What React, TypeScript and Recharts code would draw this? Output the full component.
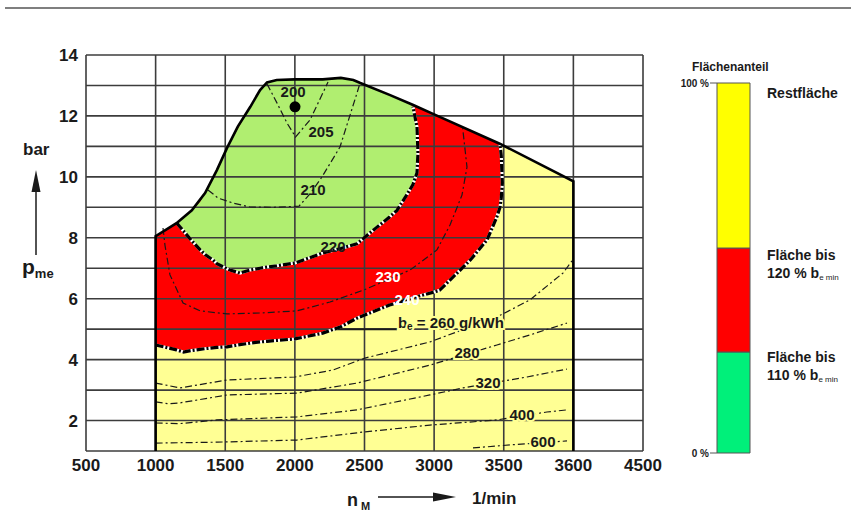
import React from "react";
import {
  Area,
  Bar,
  BarChart,
  CartesianGrid,
  ComposedChart,
  Line,
  Scatter,
  XAxis,
  YAxis,
} from "recharts";

const FONT = '"Liberation Sans", Arial, Helvetica, sans-serif';
const INK = "#1a1a1a";

// full-load curve, n in 1/min (axis position), p_me in bar
const mapFloor = 1;
const fullLoadN = [1000, 1150, 1260, 1355, 1440, 1513, 1590, 1680, 1750, 1800, 1870, 2000, 2200, 2330, 2420, 2470, 2680, 2850, 3000, 3475, 4000];
const fullLoadP = [8.05, 8.48, 8.9, 9.47, 10.22, 10.95, 11.65, 12.3, 12.85, 13.1, 13.18, 13.2, 13.2, 13.25, 13.18, 13.08, 12.69, 12.36, 12.05, 11.08, 9.85];

// area up to 120 % b_e min (red)
const redN = [1000, 1150, 1200, 1260, 1355, 1440, 1513, 1590, 1680, 1750, 1800, 1870, 2000, 2200, 2330, 2450, 2680, 2850, 2920, 3000, 3040, 3260, 3380, 3450, 3473, 3482, 3490];
const redLow = [4.48, 4.32, 4.25, 4.3, 4.36, 4.4, 4.42, 4.48, 4.54, 4.58, 4.6, 4.63, 4.68, 4.87, 5.08, 5.37, 5.79, 6.03, 6.12, 6.22, 6.28, 7.27, 7.93, 8.68, 9.0, 9.3, 9.8];
const redHigh = [8.05, 8.48, 8.67, 8.9, 9.47, 10.22, 10.95, 11.65, 12.3, 12.85, 13.1, 13.18, 13.2, 13.2, 13.25, 13.12, 12.69, 12.36, 12.22, 12.05, 11.97, 11.52, 11.27, 11.13, 11.08, 10.7, 9.8];

// area up to 110 % b_e min (green)
const greenN = [1153, 1200, 1260, 1320, 1355, 1412, 1440, 1513, 1534, 1606, 1678, 1750, 1800, 1870, 2000, 2200, 2330, 2446, 2590, 2680, 2733, 2812, 2848, 2877, 2884];
const greenLow = [8.48, 8.22, 7.9, 7.6, 7.45, 7.27, 7.15, 6.98, 6.94, 6.84, 6.94, 7.0, 7.04, 7.08, 7.17, 7.5, 7.65, 7.8, 8.35, 8.68, 8.9, 9.47, 9.75, 10.13, 10.78];
const greenHigh = [8.48, 8.67, 8.9, 9.18, 9.47, 10.0, 10.22, 10.95, 11.13, 11.7, 12.3, 12.85, 13.1, 13.18, 13.2, 13.2, 13.25, 13.13, 12.86, 12.69, 12.6, 12.45, 12.3, 11.64, 10.78];

// thin iso lines b_e
const iso205N = [1800, 1872, 1943, 2005, 2109, 2238];
const iso205P = [13.05, 12.42, 11.77, 11.31, 11.87, 13.11];
const iso210N = [1376, 1450, 1556, 1678, 1850, 2030, 2110, 2195, 2324, 2446, 2468];
const iso210P = [9.57, 9.3, 9.14, 9.01, 9.0, 9.04, 9.45, 10.0, 10.98, 12.75, 13.08];
const iso230N = [1053, 1067, 1103, 1197, 1319, 1513, 1750, 2015, 2252, 2503, 2827, 3020, 3114, 3200, 3236, 3205];
const iso230P = [8.32, 7.76, 6.78, 5.86, 5.6, 5.5, 5.53, 5.6, 5.89, 6.3, 6.94, 7.6, 8.42, 9.4, 10.32, 11.6];
const iso260N = [1000, 1175, 1513, 2001, 2274, 2503, 2970, 3451, 3688, 3925, 3990];
const iso260P = [3.23, 3.07, 3.33, 3.43, 3.66, 4.05, 4.58, 5.4, 5.96, 6.84, 7.24];
const iso280N = [1000, 1090, 1175, 1513, 2015, 2446, 2970, 3451, 3688, 3954];
const iso280P = [2.61, 2.55, 2.58, 2.84, 2.9, 3.23, 3.82, 4.48, 4.81, 5.2];
const iso320N = [1000, 1175, 1441, 2015, 2446, 2970, 3207, 3667, 3954];
const iso320P = [1.92, 1.9, 2.02, 2.12, 2.35, 2.84, 3.07, 3.43, 3.69];
const iso400N = [1000, 1441, 2015, 2489, 2970, 3451, 3810, 3954];
const iso400P = [1.26, 1.29, 1.36, 1.62, 1.85, 2.02, 2.28, 2.35];
const iso600N = [3279, 3545, 3954];
const iso600P = [1.1, 1.2, 1.33];
const leaderN = [2274, 2733];
const leaderP = [5, 5];

// best point
const minN = [2001];
const minP = [12.3];

// iso line labels
const labelText = ["200", "205", "210", "220", "230", "240", "280", "320", "400", "600"];
const labelN = [1987, 2188, 2130, 2274, 2669, 2805, 3236, 3387, 3631, 3782];
const labelP = [12.79, 11.5, 9.57, 7.7, 6.74, 5.96, 4.22, 3.26, 2.21, 1.3];
const beLabelN = [2740];
const beLabelP = [5.23];

const xTicks = [500, 1000, 1500, 2000, 2500, 3000, 3500, 4000, 4500];
const xTickLabels = ["500", "1000", "1500", "2000", "2500", "3000", "3500", "3600", "4500"];
const yTicks = [1, 2, 3, 4, 5, 6, 7, 8, 9, 10, 11, 12, 13, 14];

// share of map area, %
const shareKeys = ["green", "red", "yellow"];
const shareValues = [27.3, 28.1, 44.6];
const shareColors = ["#00F07A", "#FF0000", "#FFFF00"];
const shareTicks = [27.3, 55.4, 100];

const YELLOW = "#FFFF94";
const RED = "#FF0000";
const GREEN = "#B0EE70";

const pts = (ns: number[], ps: number[]) => ns.map((n, i) => ({ n, p: ps[i] }));
const band = (ns: number[], lo: number[], hi: number[]) =>
  ns.map((n, i) => ({ n, range: [lo[i], hi[i]] }));

const yellowRows = band(fullLoadN, fullLoadN.map(() => mapFloor), fullLoadP);
const redRows = band(redN, redLow, redHigh);
const greenRows = band(greenN, greenLow, greenHigh);

const outline = [
  { n: fullLoadN[0], p: mapFloor },
  ...pts(fullLoadN, fullLoadP),
  { n: fullLoadN[fullLoadN.length - 1], p: mapFloor },
];
const redEdge = [
  ...pts(redN, redLow),
  ...pts(redN.slice(-3, -1).reverse(), redHigh.slice(-3, -1).reverse()),
];
const greenEdge = [
  ...pts(greenN, greenLow),
  ...pts(greenN.slice(-3, -1).reverse(), greenHigh.slice(-3, -1).reverse()),
];

const isoLines = [
  pts(iso205N, iso205P),
  pts(iso210N, iso210P),
  pts(iso230N, iso230P),
  pts(iso260N, iso260P),
  pts(iso280N, iso280P),
  pts(iso320N, iso320P),
  pts(iso400N, iso400P),
  pts(iso600N, iso600P),
];

const labelRows = labelText.map((text, i) => ({ n: labelN[i], p: labelP[i], text }));
const whiteLabels = ["230", "240"];
const haloLabels = ["280", "320", "400", "600"];

const shareRow = [
  shareKeys.reduce((o: any, k, i) => ({ ...o, [k]: shareValues[i] }), { name: "A" }),
];

function IsoLabel(props: any) {
  const { cx, cy, payload } = props;
  const white = whiteLabels.includes(payload.text);
  const halo = haloLabels.includes(payload.text);
  return (
    <text
      x={cx}
      y={cy}
      textAnchor="middle"
      dominantBaseline="central"
      fontFamily={FONT}
      fontSize={15}
      fontWeight="bold"
      fill={white ? "#ffffff" : INK}
      stroke={halo ? YELLOW : "none"}
      strokeWidth={4}
      paintOrder="stroke"
    >
      {payload.text}
    </text>
  );
}

function BeLabel(props: any) {
  const { cx, cy } = props;
  return (
    <text
      x={cx}
      y={cy}
      dominantBaseline="central"
      fontFamily={FONT}
      fontSize={15}
      fontWeight="bold"
      fill={INK}
      stroke={YELLOW}
      strokeWidth={4}
      paintOrder="stroke"
    >
      b
      <tspan fontSize={10} dy={4}>e</tspan>
      <tspan dy={-4}> = 260 g/kWh</tspan>
    </text>
  );
}

const tickStyle = { fill: INK, fontSize: 17, fontWeight: "bold", fontFamily: FONT };

export default function App() {
  return (
    <div style={{ position: "absolute", left: 0, top: 0, width: 851, height: 527, background: "#fff" }}>
      <ComposedChart
        width={851}
        height={527}
        margin={{ top: 55, right: 208, bottom: 46, left: 0 }}
        style={{ position: "absolute", left: 0, top: 0 }}
      >
        <XAxis
          dataKey="n"
          type="number"
          domain={[500, 4500]}
          ticks={xTicks}
          interval={0}
          allowDataOverflow
          tickFormatter={(v, i) => xTickLabels[i]}
          axisLine={false}
          tickLine={false}
          tick={tickStyle}
          height={30}
        />
        <YAxis
          dataKey="p"
          type="number"
          domain={[1, 14]}
          ticks={yTicks}
          interval={0}
          allowDataOverflow
          tickFormatter={(v) => (v % 2 === 0 ? String(v) : "")}
          axisLine={false}
          tickLine={false}
          tick={tickStyle}
          width={86}
        />
        <Area data={yellowRows} dataKey="range" type="linear" stroke="none" fill={YELLOW} fillOpacity={1} isAnimationActive={false} dot={false} activeDot={false} />
        <Area data={redRows} dataKey="range" type="linear" stroke="none" fill={RED} fillOpacity={1} isAnimationActive={false} dot={false} activeDot={false} />
        <Area data={greenRows} dataKey="range" type="linear" stroke="none" fill={GREEN} fillOpacity={1} isAnimationActive={false} dot={false} activeDot={false} />
        <CartesianGrid stroke="#3c3c3c" strokeWidth={1.6} zIndex={150} />
        {isoLines.map((d, i) => (
          <Line key={i} data={d} dataKey="p" type="linear" stroke={INK} strokeWidth={1.2} strokeDasharray="7 3 2 3" dot={false} activeDot={false} isAnimationActive={false} />
        ))}
        <Line data={pts(leaderN, leaderP)} dataKey="p" stroke={INK} strokeWidth={2} dot={false} activeDot={false} isAnimationActive={false} />
        {[redEdge, greenEdge].map((d, i) => (
          <Line key={"w" + i} data={d} dataKey="p" type="linear" stroke="#ffffff" strokeWidth={3} dot={false} activeDot={false} isAnimationActive={false} />
        ))}
        {[redEdge, greenEdge].map((d, i) => (
          <Line key={"b" + i} data={d} dataKey="p" type="linear" stroke="#000" strokeWidth={3.2} strokeDasharray="8 2 2 2" dot={false} activeDot={false} isAnimationActive={false} />
        ))}
        <Line data={outline} dataKey="p" type="linear" stroke="#000" strokeWidth={2.6} dot={false} activeDot={false} isAnimationActive={false} />
        <Scatter data={pts(minN, minP)} isAnimationActive={false} shape={(pr: any) => <circle cx={pr.cx} cy={pr.cy} r={5.5} fill="#000" />} />
        <Scatter data={labelRows} isAnimationActive={false} shape={IsoLabel} />
        <Scatter data={pts(beLabelN, beLabelP)} isAnimationActive={false} shape={BeLabel} />
      </ComposedChart>

      <div style={{ position: "absolute", left: 640, top: 60 }}>
        <BarChart
          width={130}
          height={410}
          data={shareRow}
          margin={{ top: 23, right: 0, bottom: 17, left: 0 }}
          barCategoryGap={0}
        >
          <XAxis dataKey="name" hide />
          <YAxis
            yAxisId="l"
            type="number"
            domain={[0, 100]}
            ticks={[0, 100]}
            width={77}
            axisLine={false}
            tickSize={7}
            tickMargin={1}
            tickLine={{ stroke: "#555" }}
            tickFormatter={(v) => `${v} %`}
            tick={{ fill: INK, fontSize: 10, fontWeight: "bold", fontFamily: FONT }}
          />
          <YAxis
            yAxisId="r"
            orientation="right"
            type="number"
            domain={[0, 100]}
            ticks={shareTicks}
            width={20}
            axisLine={false}
            tickSize={7}
            tickLine={{ stroke: "#555" }}
            tickFormatter={() => ""}
          />
          {shareKeys.map((k, i) => (
            <Bar key={k} yAxisId="l" dataKey={k} stackId="s" fill={shareColors[i]} stroke="#555" strokeWidth={1} isAnimationActive={false} />
          ))}
        </BarChart>
      </div>

      <svg
        width={851}
        height={527}
        style={{ position: "absolute", left: 0, top: 0, pointerEvents: "none" }}
        fontFamily={FONT}
        fontWeight="bold"
        fill={INK}
      >
        <line x1={5} y1={8} x2={851} y2={8} stroke="#555" strokeWidth={1.5} />
        <text x={23} y={155} fontSize={17}>bar</text>
        <line x1={36} y1={190} x2={36} y2={255} stroke={INK} strokeWidth={1.5} />
        <polygon points="36,170 31.5,192 40.5,192" />
        <text x={22} y={274} fontSize={21}>
          p<tspan fontSize={13} dy={4}>me</tspan>
        </text>
        <text x={347} y={506} fontSize={18}>
          n<tspan fontSize={11} dx={3} dy={4}>M</tspan>
        </text>
        <line x1={378} y1={497} x2={436} y2={497} stroke={INK} strokeWidth={1.5} />
        <polygon points="456,497 433,492.5 433,501.5" />
        <text x={472} y={504} fontSize={17}>1/min</text>

        <text x={692} y={71} fontSize={12}>Flächenanteil</text>
        <text x={767} y={98} fontSize={14}>Restfläche</text>
        <text x={767} y={260} fontSize={14}>Fläche bis</text>
        <text x={767} y={278} fontSize={14}>
          120 % b<tspan fontSize={8} fontWeight="normal" dy={2}>e min</tspan>
        </text>
        <text x={767} y={362} fontSize={14}>Fläche bis</text>
        <text x={767} y={380} fontSize={14}>
          110 % b<tspan fontSize={8} fontWeight="normal" dy={2}>e min</tspan>
        </text>
      </svg>
    </div>
  );
}
